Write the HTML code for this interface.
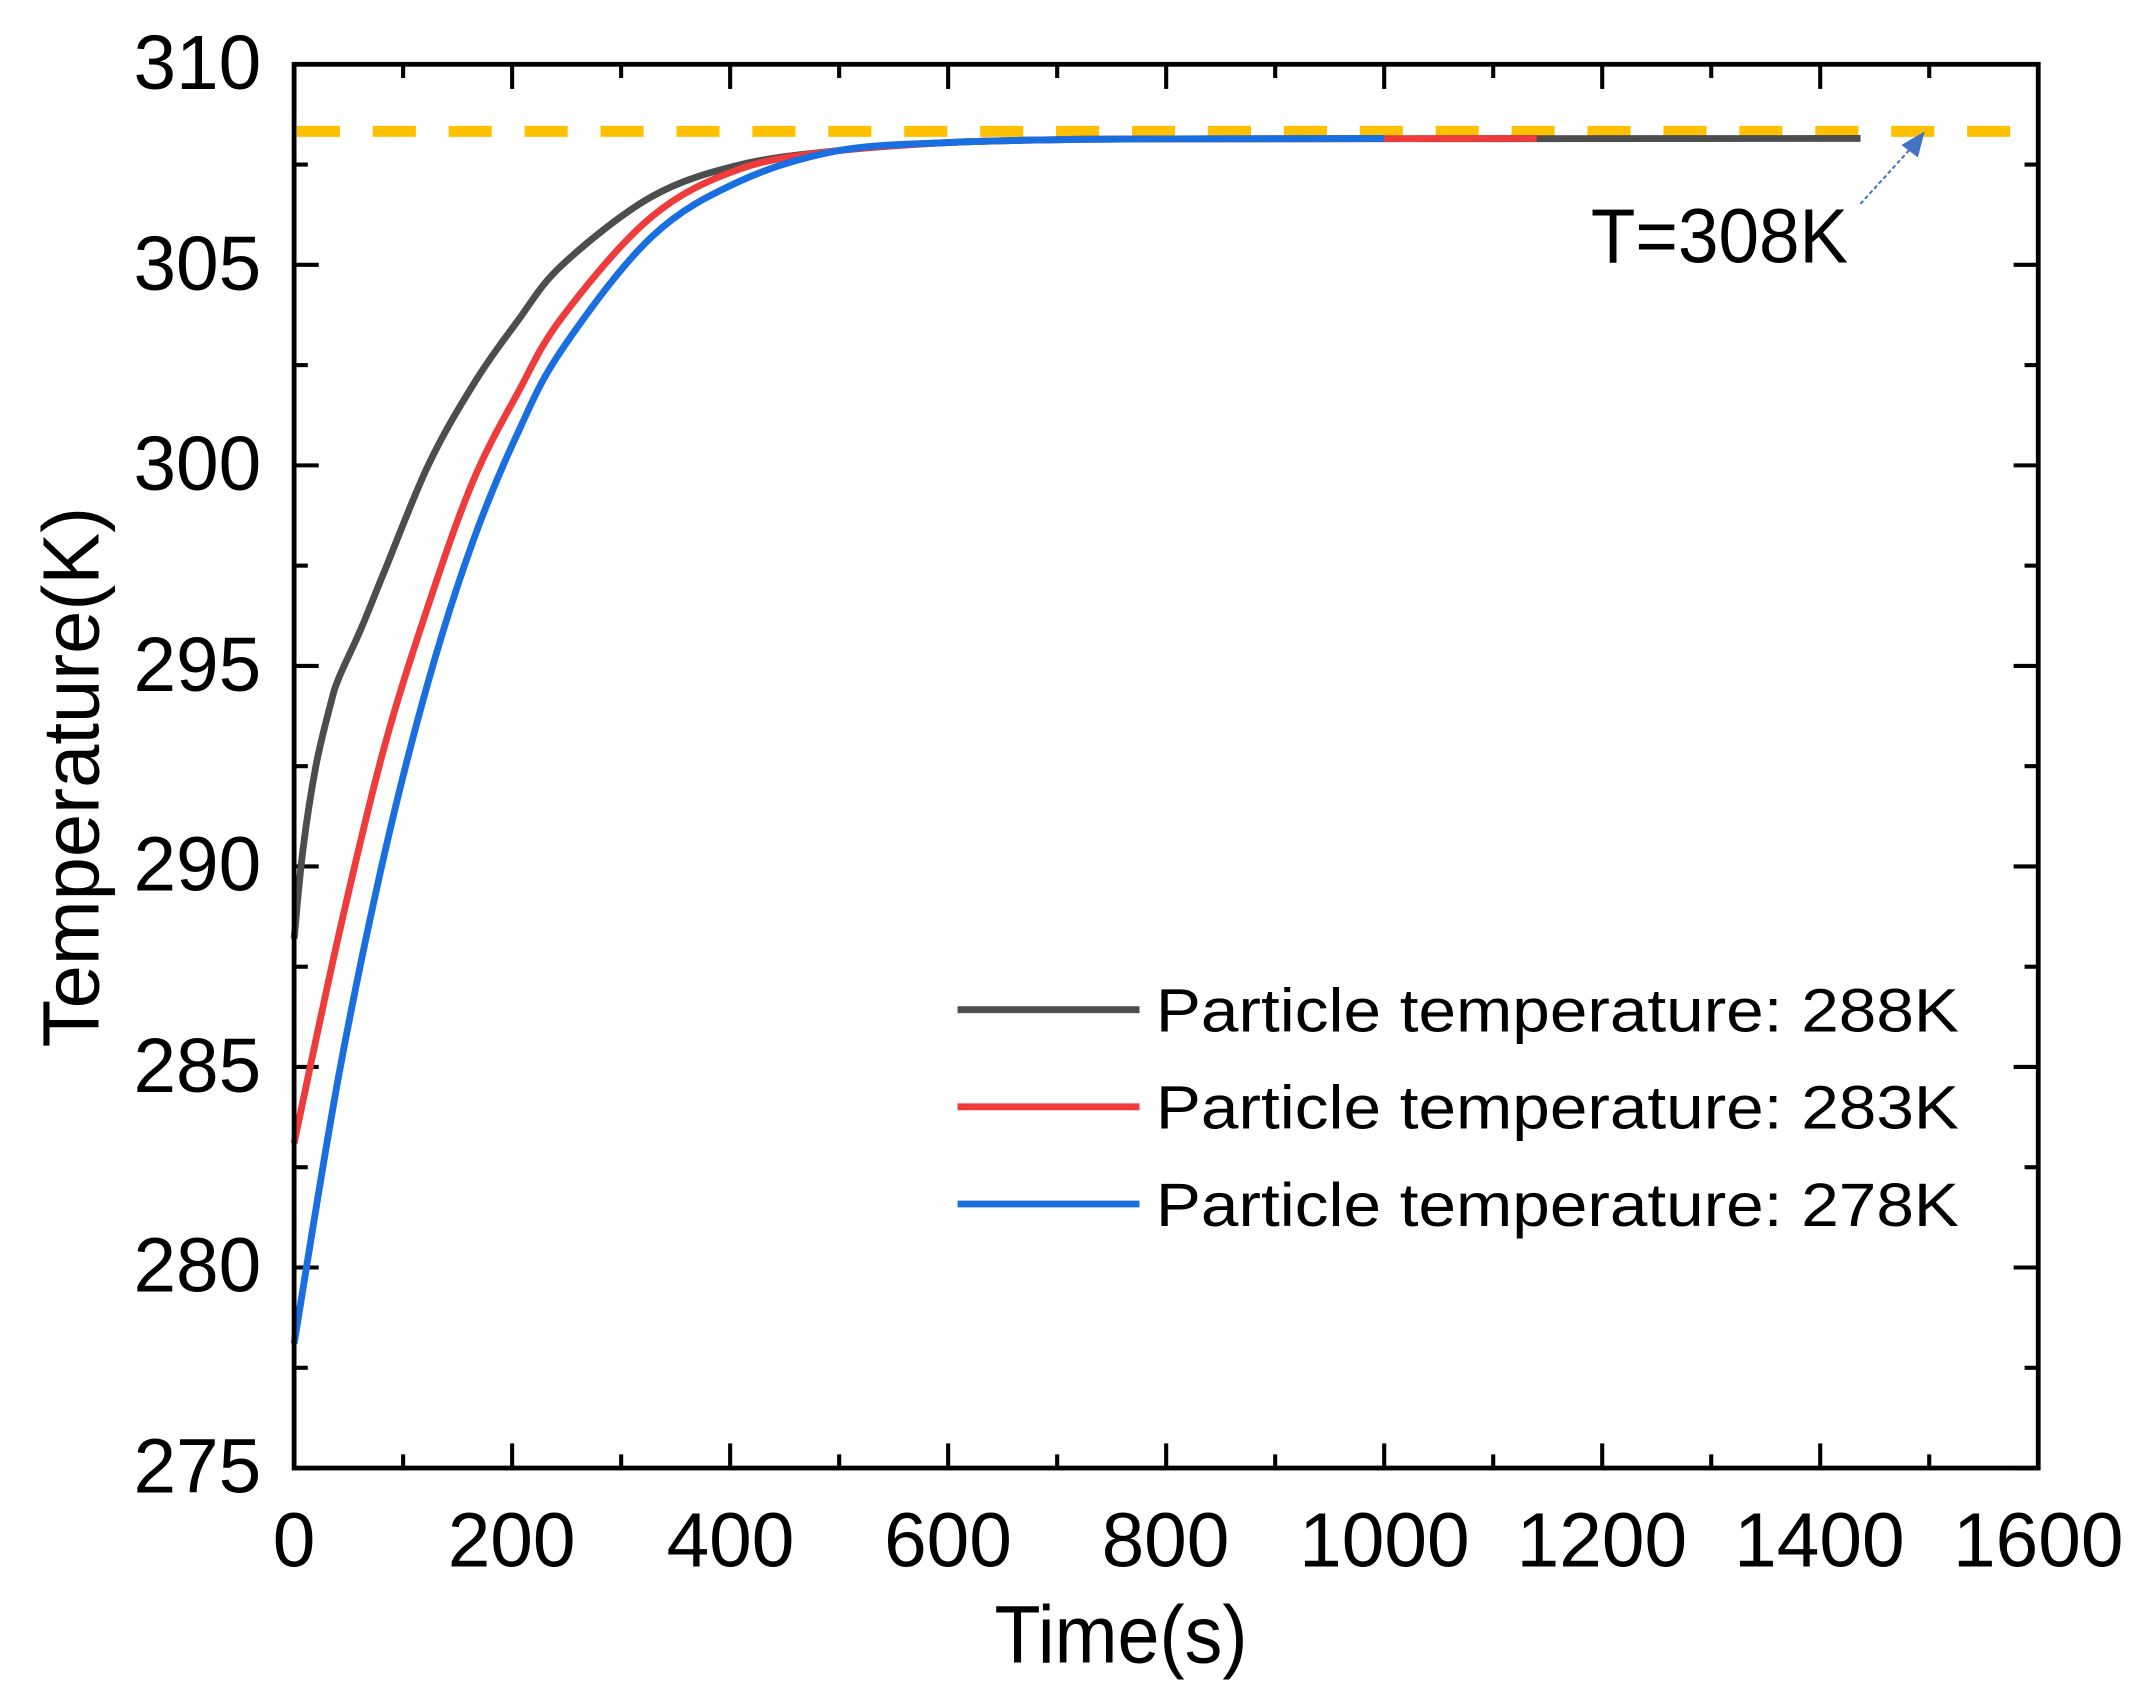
<!DOCTYPE html>
<html><head><meta charset="utf-8"><style>
html,body{margin:0;padding:0;background:#fff;}
svg{display:block;}
text{font-family:"Liberation Sans",sans-serif;fill:#000;}
</style></head><body>
<svg id="s" width="2134" height="1702" viewBox="0 0 1560 1244" preserveAspectRatio="none" xmlns="http://www.w3.org/2000/svg">
<rect width="1560" height="1244" fill="#fff"/>
<g id="ticks" stroke="#000" stroke-width="3"></g>
<line x1="217" y1="96" x2="1472" y2="96" stroke="#FFC000" stroke-width="8" stroke-dasharray="31.5 24"/>
<path id="pk" fill="none" stroke="#4d4d4d" stroke-width="5"/>
<path id="pr" fill="none" stroke="#ee3b3b" stroke-width="5"/>
<path id="pb" fill="none" stroke="#1a6fe0" stroke-width="5"/>
<rect x="215" y="47" width="1275" height="1026" fill="none" stroke="#000" stroke-width="3.5"/>
<g font-size="56" text-anchor="end">
<text x="191" y="65">310</text><text x="191" y="212">305</text><text x="191" y="358">300</text>
<text x="191" y="505">295</text><text x="191" y="651">290</text><text x="191" y="798">285</text>
<text x="191" y="944">280</text><text x="191" y="1091">275</text>
</g>
<g font-size="56" text-anchor="middle">
<text x="215" y="1145">0</text><text x="374" y="1145">200</text><text x="534" y="1145">400</text>
<text x="693" y="1145">600</text><text x="852" y="1145">800</text><text x="1012" y="1145">1000</text>
<text x="1171" y="1145">1200</text><text x="1330" y="1145">1400</text><text x="1490" y="1145">1600</text>
</g>
<text x="727" y="1215" font-size="60" textLength="185" lengthAdjust="spacingAndGlyphs">Time(s)</text>
<text transform="translate(72,568) rotate(-90)" font-size="58" text-anchor="middle" textLength="395" lengthAdjust="spacingAndGlyphs">Temperature(K)</text>
<text x="1163" y="192" font-size="56" textLength="188" lengthAdjust="spacingAndGlyphs">T=308K</text>
<line x1="1360" y1="149" x2="1400" y2="105" stroke="#4472c4" stroke-width="1.5" stroke-dasharray="3 2"/>
<polygon points="1407,96 1390,106 1402,115" fill="#4472c4"/>
<g stroke-width="5">
<line x1="700" y1="738" x2="833" y2="738" stroke="#4d4d4d"/>
<line x1="700" y1="809" x2="833" y2="809" stroke="#ee3b3b"/>
<line x1="700" y1="880" x2="833" y2="880" stroke="#1a6fe0"/>
</g>
<g font-size="45">
<text x="845" y="754" textLength="587" lengthAdjust="spacingAndGlyphs">Particle temperature: 288K</text>
<text x="845" y="825" textLength="587" lengthAdjust="spacingAndGlyphs">Particle temperature: 283K</text>
<text x="845" y="896" textLength="587" lengthAdjust="spacingAndGlyphs">Particle temperature: 278K</text>
</g>
</svg>
<script>
var X=function(t){return 215+t*1275/1600;},Y=function(T){return 1073-(T-275)*1026/35;};
var g=document.getElementById('ticks'),h='';
for(var t=0;t<=1600;t+=100){var L=(t%200==0)?18:10;h+='<line x1="'+X(t)+'" y1="1073" x2="'+X(t)+'" y2="'+(1073-L)+'"/><line x1="'+X(t)+'" y1="47" x2="'+X(t)+'" y2="'+(47+L)+'"/>';}
for(var T=275;T<=310;T+=2.5){var L=(T%5==0)?18:10;h+='<line x1="215" y1="'+Y(T)+'" x2="'+(215+L)+'" y2="'+Y(T)+'"/><line x1="1490" y1="'+Y(T)+'" x2="'+(1490-L)+'" y2="'+Y(T)+'"/>';}
g.innerHTML=h;
function draw(id,pts,tend){
 var Tf=308.15;pts=pts.slice();
 var tail=[[500,Tf-0.3],[600,Tf-0.1],[700,Tf-0.03],[800,Tf-0.01],[tend,Tf]];
 pts=pts.concat(tail);
 var P=pts.map(function(p){return [X(p[0]),Y(p[1])];});
 var d='M'+P[0][0].toFixed(1)+','+P[0][1].toFixed(1);
 for(var i=0;i<P.length-1;i++){
  var p0=P[i-1]||P[i],p1=P[i],p2=P[i+1],p3=P[i+2]||P[i+1];
  var c1=[p1[0]+(p2[0]-p0[0])/6,p1[1]+(p2[1]-p0[1])/6],c2=[p2[0]-(p3[0]-p1[0])/6,p2[1]-(p3[1]-p1[1])/6];
  d+='C'+c1[0].toFixed(1)+','+c1[1].toFixed(1)+' '+c2[0].toFixed(1)+','+c2[1].toFixed(1)+' '+p2[0].toFixed(1)+','+p2[1].toFixed(1);
 }
 document.getElementById(id).setAttribute('d',d);
}
draw('pk',[[0,288.2],[8,290.4],[20,292.5],[33,294],[41,294.7],[61,295.9],[82,297.3],[123,300],[164,302],[205,303.6],[246,305],[328,306.7],[410,307.5]],1437);
draw('pr',[[0,283.1],[41,288.3],[82,292.9],[123,296.5],[164,299.6],[205,301.8],[246,303.7],[328,306.2],[410,307.4]],1140);
draw('pb',[[0,278.1],[41,284.8],[82,290.2],[123,294.6],[164,298.1],[205,300.8],[246,302.9],[328,305.7],[410,307.1]],1000);
</script>
</body></html>
